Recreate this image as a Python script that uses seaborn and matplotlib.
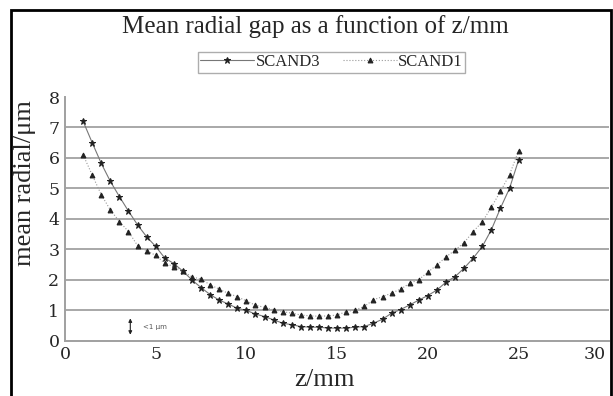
import pandas as pd
import matplotlib.pyplot as plt
import seaborn as sns
from matplotlib.patches import Rectangle
from matplotlib.transforms import ScaledTranslation

# positions along z (mm), sampled every 0.5 mm
z = [1.0, 1.5, 2.0, 2.5, 3.0, 3.5, 4.0, 4.5, 5.0, 5.5, 6.0, 6.5, 7.0, 7.5,
     8.0, 8.5, 9.0, 9.5, 10.0, 10.5, 11.0, 11.5, 12.0, 12.5, 13.0, 13.5,
     14.0, 14.5, 15.0, 15.5, 16.0, 16.5, 17.0, 17.5, 18.0, 18.5, 19.0,
     19.5, 20.0, 20.5, 21.0, 21.5, 22.0, 22.5, 23.0, 23.5, 24.0, 24.5, 25.0]

scand3 = [7.2, 6.5, 5.82, 5.23, 4.73, 4.25, 3.8, 3.41, 3.09, 2.71, 2.53, 2.28,
          1.99, 1.74, 1.51, 1.33, 1.2, 1.06, 0.99, 0.87, 0.79, 0.68, 0.57,
          0.52, 0.46, 0.44, 0.44, 0.41, 0.41, 0.41, 0.44, 0.46, 0.57, 0.7,
          0.9, 1.02, 1.17, 1.33, 1.48, 1.66, 1.92, 2.1, 2.38, 2.71, 3.09,
          3.64, 4.35, 5.0, 5.93]

scand1 = [6.1, 5.44, 4.79, 4.29, 3.91, 3.58, 3.12, 2.95, 2.8, 2.54, 2.43, 2.28,
          2.09, 2.02, 1.83, 1.69, 1.55, 1.44, 1.3, 1.16, 1.09, 1.01, 0.95,
          0.9, 0.84, 0.81, 0.8, 0.81, 0.84, 0.95, 1.01, 1.12, 1.34, 1.44,
          1.56, 1.69, 1.88, 2.0, 2.25, 2.48, 2.75, 2.97, 3.22, 3.58, 3.9,
          4.38, 4.9, 5.45, 6.23]

df = pd.DataFrame({"z": z, "SCAND3": scand3, "SCAND1": scand1})

sns.set_style("white")
plt.rcParams["font.family"] = ["Liberation Serif", "DejaVu Serif"]

fig = plt.figure(figsize=(6.13, 3.96), dpi=100)
ax = fig.add_axes([0.106, 0.140, 0.888, 0.615])

sns.lineplot(data=df, x="z", y="SCAND3", ax=ax, color="#777777", lw=0.8,
             marker="*", markersize=4.5, markerfacecolor="#222222",
             markeredgecolor="#222222", label="SCAND3")
sns.lineplot(data=df, x="z", y="SCAND1", ax=ax, color="#999999", lw=0.8,
             linestyle=":", marker="^", markersize=3.5,
             markerfacecolor="#222222", markeredgecolor="#222222",
             label="SCAND1")

ax.set_xlim(0, 30)
ax.set_ylim(0, 8)
ax.set_xticks([0, 5, 10, 15, 20, 25, 30])
ax.set_yticks(range(0, 9))
ax.yaxis.grid(True, color="#a8a8a8", lw=1.4)
ax.get_ygridlines()[-1].set_visible(False)
ax.get_ygridlines()[0].set_visible(False)
ax.xaxis.grid(False)

for s in ["top", "right"]:
    ax.spines[s].set_visible(False)
for s in ["left", "bottom"]:
    ax.spines[s].set_color("#a0a0a0")
    ax.spines[s].set_linewidth(1.4)

ax.tick_params(axis="both", length=3, color="#a0a0a0", width=1, pad=1)
for lab in ax.get_xticklabels() + ax.get_yticklabels():
    lab.set_fontfamily("DejaVu Serif")
    lab.set_fontsize(12.5)
# last x label pulled inside the chart edge, like the original
last = ax.get_xticklabels()[-1]
last.set_horizontalalignment("right")
last.set_transform(last.get_transform() +
                   ScaledTranslation(-4 / 100, 0, fig.dpi_scale_trans))

ax.set_xlabel("")
ax.set_ylabel("")
fig.text(0.530, 0.040, "z/mm", fontsize=19, ha="center", va="center")
fig.text(0.040, 0.538, "mean radial/μm", fontsize=19, rotation=90,
         ha="center", va="center")

fig.text(0.515, 0.932, "Mean radial gap as a function of z/mm",
         fontsize=18, ha="center", va="center")

ax.legend(loc="center", bbox_to_anchor=(0.541, 0.843),
          bbox_transform=fig.transFigure, ncol=2, frameon=True,
          fancybox=False, edgecolor="#999999", fontsize=12,
          handlelength=3.2, columnspacing=1.4, borderpad=0.15,
          handletextpad=0.1)

# "<1 um" scale marker
ax.annotate("", xy=(3.6, 0.1), xytext=(3.6, 0.82),
            arrowprops=dict(arrowstyle="<|-|>", color="#222222", lw=0.8,
                            mutation_scale=5))
ax.text(4.3, 0.45, "<1 μm", fontsize=5, color="#555555",
        family="DejaVu Sans", va="center")

fig.patches.append(Rectangle((0.018, -0.01), 0.978, 0.985,
                             transform=fig.transFigure, fill=False,
                             edgecolor="black", lw=2))

fig.savefig("out.png", dpi=100)
